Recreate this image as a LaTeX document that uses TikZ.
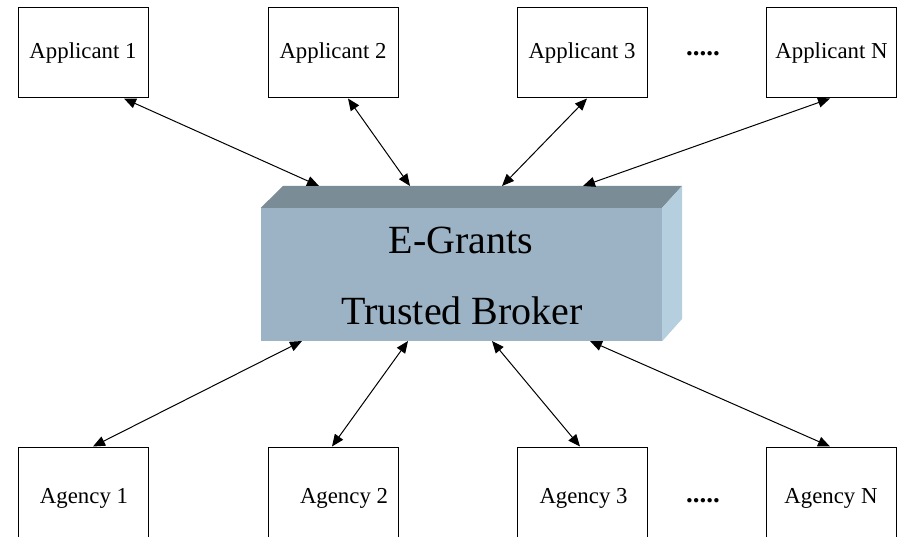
\documentclass[tikz,border=0pt]{standalone}
\usepackage{fontspec}
\setmainfont{Liberation Serif}
\usetikzlibrary{arrows.meta}
\definecolor{frontc}{RGB}{155,179,196}
\definecolor{topc}{RGB}{122,140,150}
\definecolor{sidec}{RGB}{181,207,223}
\tikzset{
  party/.style={draw=black, line width=1pt, fill=white, rectangle, minimum width=130pt, minimum height=90pt, inner sep=0pt, font=\fontsize{22.8}{26}\selectfont},
  lbl/.style={inner sep=0pt, font=\fontsize{22.8}{26}\selectfont},
  link/.style={line width=1pt, {Triangle[length=12pt,width=10pt]}-{Triangle[length=12pt,width=10pt]}},
  bigtxt/.style={font=\fontsize{40}{48}\selectfont, inner sep=0pt},
  dotstxt/.style={font=\fontsize{27}{30}\selectfont\bfseries, inner sep=0pt}
}
\begin{document}
\begin{tikzpicture}[x=1pt,y=-1pt]
\useasboundingbox (0,0) rectangle (901,537);
% central broker box (3D)
\node[fill=frontc, minimum width=401pt, minimum height=133pt, inner sep=0pt] (broker) at (461.5,274.5) {};
\fill[topc] (broker.north west) -- (283,186) -- (682,186) -- (broker.north east) -- cycle;
\fill[sidec] (broker.north east) -- (682,186) -- (682,319) -- (broker.south east) -- cycle;
\node[bigtxt, anchor=base] (l1) at (461,253) {E-Grants};
\node[bigtxt, anchor=base] (l2) at (462,324) {Trusted Broker};
% applicants
\node[party] (app1) at (83,53) {Applicant 1};
\node[party] (app2) at (333,53) {Applicant 2};
\node[party] (app3) at (582,53) {Applicant 3};
\node[party] (appN) at (831.5,53) {Applicant N};
\node[dotstxt] (dt) at (703,54) {.....};
% agencies
\node[party] (ag1) at (83,492) {};
\node[party] (ag2) at (333,492) {};
\node[party] (ag3) at (582,492) {};
\node[party] (agN) at (831.5,492) {};
\node[lbl, anchor=base] (ag1t) at (84,503) {Agency 1};
\node[lbl, anchor=base] (ag2t) at (344,503) {Agency 2};
\node[lbl, anchor=base] (ag3t) at (583.5,503) {Agency 3};
\node[lbl, anchor=base] (agNt) at (831,503) {Agency N};
\node[dotstxt] (db) at (703,501) {.....};
% connection points on broker
\coordinate (bt1) at (319,186);
\coordinate (bt2) at (410,186);
\coordinate (bt3) at (502,186);
\coordinate (bt4) at (583,186);
\coordinate (bb1) at (302,341);
\coordinate (bb2) at (408,341);
\coordinate (bb3) at (492,341);
\coordinate (bb4) at (590,341);
% connectors
\draw[link] ([xshift=41pt]app1.south) -- (bt1);
\draw[link] ([xshift=15pt]app2.south) -- (bt2);
\draw[link] ([xshift=5pt]app3.south) -- (bt3);
\draw[link] ([xshift=-1.5pt]appN.south) -- (bt4);
\draw[link] ([xshift=10pt]ag1.north) -- (bb1);
\draw[link] ([xshift=-1pt]ag2.north) -- (bb2);
\draw[link] ([xshift=-2pt]ag3.north) -- (bb3);
\draw[link] ([xshift=-1.5pt]agN.north) -- (bb4);
\end{tikzpicture}
\end{document}
